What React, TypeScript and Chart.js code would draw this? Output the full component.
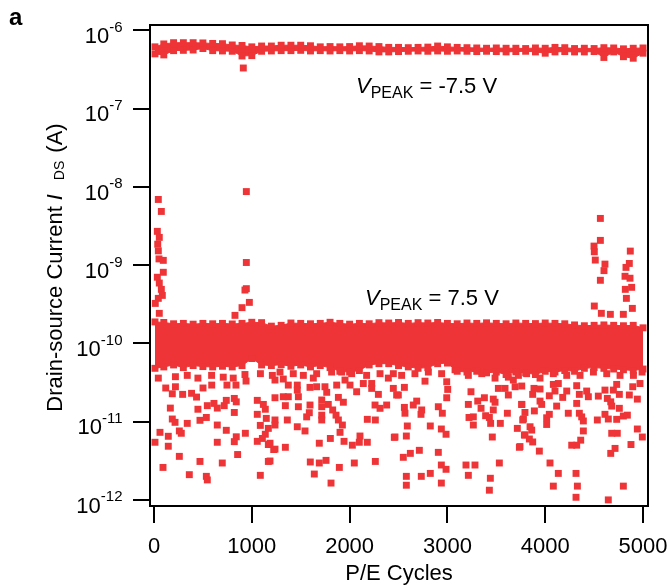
import React, { useEffect, useRef } from 'react';
import { Chart, registerables } from 'chart.js';

Chart.register(...registerables);

const RED = 'rgb(238, 52, 54)';
const FONT = '"Liberation Sans", Arial, Helvetica, sans-serif';

const xTickValues = [0, 1000, 2000, 3000, 4000, 5000];
const yTickExponents = [-12, -11, -10, -9, -8, -7, -6];

// cycles at which the edges of the two dense bands were read
const envelopeCycles = [
  10, 100, 200, 300, 400, 500, 600, 700, 800, 900, 1000, 1100, 1200, 1300, 1400, 1500, 1600,
  1700, 1800, 1900, 2000, 2100, 2200, 2300, 2400, 2500, 2600, 2700, 2800, 2900, 3000, 3100,
  3200, 3300, 3400, 3500, 3600, 3700, 3800, 3900, 4000, 4100, 4200, 4300, 4400, 4500, 4600,
  4700, 4800, 4900, 5000,
];

// V_PEAK = -7.5 V band (upper / lower edge of the dense points)
const highUpper = [
  6.15e-7, 6.7e-7, 6.95e-7, 6.95e-7, 6.95e-7, 6.9e-7, 6.8e-7, 6.75e-7, 6.5e-7, 6.4e-7,
  6.15e-7, 6.3e-7, 6.3e-7, 6.45e-7, 6.45e-7, 6.45e-7, 6.35e-7, 6.15e-7, 6.2e-7, 6.15e-7,
  6.2e-7, 6.35e-7, 6.3e-7, 6.2e-7, 6.05e-7, 6.05e-7, 6.0e-7, 6.05e-7, 6.1e-7, 6.3e-7,
  6.15e-7, 6.05e-7, 6.0e-7, 5.95e-7, 5.9e-7, 5.95e-7, 5.9e-7, 5.9e-7, 5.85e-7, 5.95e-7,
  5.9e-7, 6.05e-7, 6.0e-7, 5.85e-7, 5.9e-7, 5.85e-7, 6.0e-7, 5.95e-7, 5.8e-7, 5.9e-7, 5.95e-7,
];
const highLower = [
  5.0e-7, 4.85e-7, 5.5e-7, 5.55e-7, 5.6e-7, 5.85e-7, 5.5e-7, 5.45e-7, 5.4e-7, 4.7e-7,
  4.75e-7, 5.4e-7, 5.45e-7, 5.5e-7, 5.5e-7, 5.55e-7, 5.45e-7, 5.5e-7, 5.45e-7, 5.5e-7,
  5.45e-7, 5.5e-7, 5.45e-7, 5.3e-7, 5.3e-7, 5.35e-7, 5.4e-7, 5.45e-7, 5.4e-7, 5.45e-7,
  5.4e-7, 5.45e-7, 5.4e-7, 5.35e-7, 5.4e-7, 5.35e-7, 5.3e-7, 5.35e-7, 5.4e-7, 5.3e-7,
  5.1e-7, 5.3e-7, 5.35e-7, 5.3e-7, 5.3e-7, 5.35e-7, 4.5e-7, 5.3e-7, 4.6e-7, 4.4e-7, 5.1e-7,
];
const highOutlierCycles = [913];
const highOutlierValues = [3.3e-7];

// V_PEAK = 7.5 V band (upper / lower edge of the dense points)
const lowUpper = [
  1.88e-10, 1.85e-10, 1.78e-10, 1.8e-10, 1.76e-10, 1.8e-10, 1.78e-10, 1.8e-10, 1.77e-10, 1.8e-10,
  1.86e-10, 1.84e-10, 1.66e-10, 1.7e-10, 1.82e-10, 1.8e-10, 1.78e-10, 1.8e-10, 1.86e-10, 1.8e-10,
  1.76e-10, 1.8e-10, 1.78e-10, 1.84e-10, 1.82e-10, 1.85e-10, 1.8e-10, 1.84e-10, 1.82e-10, 1.85e-10,
  1.8e-10, 1.78e-10, 1.82e-10, 1.8e-10, 1.83e-10, 1.8e-10, 1.78e-10, 1.82e-10, 1.8e-10, 1.79e-10,
  1.82e-10, 1.8e-10, 1.78e-10, 1.72e-10, 1.68e-10, 1.7e-10, 1.72e-10, 1.7e-10, 1.68e-10, 1.7e-10, 1.58e-10,
];
const lowLower = [
  4.8e-11, 5.0e-11, 5.3e-11, 4.9e-11, 5.2e-11, 5.05e-11, 5.0e-11, 5.1e-11, 5.0e-11, 5.2e-11,
  6.4e-11, 5.3e-11, 5.2e-11, 5.35e-11, 5.1e-11, 5.3e-11, 5.0e-11, 5.2e-11, 4.9e-11, 4.4e-11,
  4.3e-11, 4.5e-11, 5.3e-11, 5.5e-11, 5.5e-11, 5.2e-11, 5.0e-11, 4.8e-11, 4.9e-11, 5.5e-11,
  5.6e-11, 4.4e-11, 4.3e-11, 4.4e-11, 4.2e-11, 4.3e-11, 4.0e-11, 4.3e-11, 4.2e-11, 4.0e-11,
  4.4e-11, 4.3e-11, 4.5e-11, 4.4e-11, 4.8e-11, 4.9e-11, 4.8e-11, 4.7e-11, 4.6e-11, 4.5e-11, 4.7e-11,
];

// ragged points just under the dense 7.5 V band
const bandEdgeCycles = [
  219, 340, 449, 589, 708, 810, 930, 1088, 1210,
  1288, 1424, 1527, 1663, 1816, 1919, 2021, 2174, 2311, 2447,
  2532, 2668, 2805, 2941, 3078, 3214, 3351, 3487, 3623, 3726,
  3810, 3947, 4083, 4220, 4356, 4493, 4629, 4765, 4902, 4990,
];
const bandEdgeValues = [
  3.75e-11, 3.9e-11, 3.6e-11, 3.9e-11, 3.7e-11, 3.6e-11, 4.0e-11, 4.1e-11, 3.9e-11,
  4.3e-11, 4.1e-11, 3.9e-11, 4.1e-11, 4.3e-11, 4.3e-11, 4.1e-11, 3.9e-11, 4.1e-11, 4.1e-11,
  3.9e-11, 4.1e-11, 4.3e-11, 4.1e-11, 4.6e-11, 3.9e-11, 4.1e-11, 3.6e-11, 3.7e-11, 3.9e-11,
  4.1e-11, 3.6e-11, 4.1e-11, 3.9e-11, 3.9e-11, 4.3e-11, 4.1e-11, 3.9e-11, 3.9e-11, 4.3e-11,
];

// isolated high-current points of the 7.5 V series
const spikeCycles = [
  44, 75, 34, 54, 38, 44, 51, 95, 95, 34, 54, 75, 85, 44, 13, 54,
  944, 944, 944, 930, 975, 900, 828,
  4564, 4564, 4499, 4502, 4512, 4611, 4601, 4564, 4870, 4860, 4826, 4816, 4867, 4884, 4819, 4830,
  4891, 4502, 4574, 4666, 4799,
];
const spikeValues = [
  6.9e-9, 4.85e-9, 2.7e-9, 2.26e-9, 1.85e-9, 1.52e-9, 1.2e-9, 1.15e-9, 8.1e-10, 7.0e-10, 5.9e-10,
  4.9e-10, 4.1e-10, 3.76e-10, 3.24e-10, 2.42e-10,
  8.7e-9, 1.08e-9, 5.0e-10, 4.8e-10, 3.34e-10, 2.86e-10, 2.28e-10,
  3.95e-9, 2.07e-9, 1.75e-9, 1.48e-9, 1.16e-9, 1.03e-9, 8.5e-10, 6.4e-10, 1.51e-9, 1.05e-9,
  9.35e-10, 7.2e-10, 6.8e-10, 5.2e-10, 4.9e-10, 3.76e-10, 2.8e-10, 3.0e-10, 2.42e-10, 2.35e-10, 2.35e-10,
];

// isolated low-current points of the 7.5 V series
const lowScatterCycles = [
  44, 120, 187, 219, 293, 384, 435, 501, 590, 746, 838, 941, 167, 187, 215, 340, 61, 146, 259, 279,
  10, 146, 259, 92, 361, 470, 535, 545, 698, 647, 647, 739, 470, 535, 449, 545, 613, 647, 718, 739,
  821, 841, 821, 841, 821, 934, 855, 1056, 1056, 1118, 1138, 1148, 1087, 1169, 1138, 1108, 1056, 1169,
  1169, 1087, 1224,
  1237, 1322, 1373, 1465, 1465, 1629, 1663, 1595, 1748, 1766, 1868, 1953, 2004, 2072, 2140, 2226,
  2226, 2396, 2447, 2481, 1237, 1322, 1373, 1343, 1476, 1476, 1595, 1715, 1715, 1782, 1885, 1936,
  2294, 2260, 2311, 2379, 1237, 1237, 1363, 1465, 1544, 1561, 1588, 1715, 1715, 1827, 1861, 1885,
  1926, 1902, 2181, 2263, 1186, 1237, 1343, 1690, 1803, 1943, 2028, 2106, 2099, 2181, 2457, 1186,
  1598, 1690, 1759, 1895, 2048, 2263, 1639, 1810,
  2560, 2498, 2686, 2651, 2771, 2907, 2993, 3003, 2993, 2560, 2566, 2737, 2730, 2948, 3214, 3241,
  3310, 3344, 3378, 3469, 3487, 3521, 3589, 3623, 3692, 3674, 3760, 3777, 3391, 3429, 3469, 3221,
  3265, 3265, 3442, 3541, 3613, 2590, 2825, 2938, 2986, 2580, 2464, 3459, 3715, 3787, 2549, 2621,
  2713, 2907, 3736, 2938, 2986, 3190, 3282, 3531, 2580, 2733, 2825, 3214, 3439, 2580, 2938, 3429,
  3760, 3885, 3872, 3947, 4083, 4134, 4100, 4042, 4179, 4220, 4322, 4349, 4424, 4441, 4543, 4611,
  4635, 4670, 4697, 4731, 4758, 4860, 4895, 4969, 4942, 3760, 3793, 3770, 3889, 3947, 3964, 4015,
  4015, 4042, 4117, 4236, 4322, 4349, 4390, 4373, 4533, 4611, 4645, 4680, 4731, 4758, 4799, 4840,
  3845, 3862, 3793, 3838, 3872, 3742, 3940, 4390, 4363, 4322, 4271, 4680, 4737, 4714, 4670, 4877,
  4942, 4993, 4049, 4134, 4315, 4083, 4329, 4799, 4315, 4645,
];
const lowScatterValues = [
  3.6e-11, 2.69e-11, 2.27e-11, 2.79e-11, 2.23e-11, 2.3e-11, 2.06e-11, 2.69e-11, 2.93e-11, 2.93e-11,
  2.93e-11, 3.3e-11, 1.49e-11, 1.08e-11, 9.8e-12, 9.5e-12, 7.3e-12, 6.5e-12, 7.6e-12, 7.1e-12,
  5.45e-12, 4.85e-12, 3.6e-12, 2.6e-12, 2.1e-12, 3.1e-12, 2.0e-12, 1.8e-12, 2.96e-12, 5.45e-12,
  9.05e-12, 7.75e-12, 1.04e-11, 1.13e-11, 1.44e-11, 1.6e-11, 1.71e-11, 1.49e-11, 1.6e-11, 1.87e-11,
  1.98e-11, 1.79e-11, 1.31e-11, 6.4e-12, 5.55e-12, 7.1e-12, 3.8e-12, 1.87e-11, 1.24e-11, 1.66e-11,
  1.44e-11, 1.1e-11, 8.95e-12, 8.2e-12, 6.9e-12, 6.1e-12, 5.6e-12, 5.1e-12, 3.1e-12, 2.06e-12,
  4.4e-12,
  3.4e-11, 3.5e-11, 2.93e-11, 2.93e-11, 2.53e-11, 3.6e-11, 2.79e-11, 2.74e-11, 2.79e-11, 2.37e-11,
  2.93e-11, 3.4e-11, 2.93e-11, 2.41e-11, 3.07e-11, 3.07e-11, 2.66e-11, 3.6e-11, 2.66e-11, 2.19e-11,
  2.02e-11, 2.08e-11, 2.08e-11, 1.6e-11, 2.08e-11, 1.55e-11, 1.63e-11, 1.89e-11, 1.55e-11, 1.66e-11,
  2.04e-11, 1.77e-11, 2.23e-11, 1.63e-11, 1.48e-11, 1.63e-11, 1.05e-11, 9.05e-12, 1.05e-11, 8.6e-12,
  7.6e-12, 1.15e-11, 1.3e-11, 1.21e-11, 1.05e-11, 1.41e-11, 1.21e-11, 1.05e-11, 9.05e-12, 7.3e-12,
  1.07e-11, 1.05e-11, 5.3e-12, 4.45e-12, 4.7e-12, 5.3e-12, 6.1e-12, 5.6e-12, 5.0e-12, 6.55e-12,
  5.45e-12, 5.45e-12, 6.3e-12, 3.14e-12, 3.05e-12, 2.96e-12, 3.2e-12, 2.6e-12, 2.96e-12, 3.1e-12,
  2.14e-12, 1.64e-12,
  2.74e-11, 2.19e-11, 1.83e-11, 1.63e-11, 3.29e-11, 1.55e-11, 3.23e-11, 2.58e-11, 2.02e-11, 1.52e-11,
  1.28e-11, 1.41e-11, 1.24e-11, 1.28e-11, 1.66e-11, 2.41e-11, 1.83e-11, 1.48e-11, 2.02e-11, 1.94e-11,
  1.77e-11, 2.66e-11, 2.66e-11, 2.19e-11, 2.79e-11, 3.4e-11, 1.66e-11, 1.08e-11, 1.19e-11, 1.13e-11,
  1.41e-11, 1.13e-11, 1.15e-11, 9.05e-12, 9.5e-12, 9.5e-12, 1.28e-11, 8.8e-12, 8.8e-12, 8.05e-12,
  6.9e-12, 6.55e-12, 6.36e-12, 6.36e-12, 8.2e-12, 6.75e-12, 3.5e-12, 3.93e-12, 4.3e-12, 4.05e-12,
  4.7e-12, 2.79e-12, 2.46e-12, 2.79e-12, 2.79e-12, 2.96e-12, 2.0e-12, 2.0e-12, 2.18e-12, 2.06e-12,
  1.89e-12, 1.54e-12, 1.64e-12, 1.33e-12,
  2.85e-11, 2.66e-11, 2.23e-11, 2.61e-11, 2.99e-11, 3.07e-11, 2.46e-11, 2.14e-11, 2.04e-11, 2.46e-11,
  2.88e-11, 2.23e-11, 2.46e-11, 2.08e-11, 2.12e-11, 2.53e-11, 1.98e-11, 1.79e-11, 2.53e-11, 2.99e-11,
  2.23e-11, 2.19e-11, 2.79e-11, 3.07e-11, 1.94e-11, 1.66e-11, 1.31e-11, 1.05e-11, 1.37e-11, 1.83e-11,
  1.66e-11, 1.12e-11, 9.2e-12, 1.24e-11, 1.58e-11, 1.28e-11, 1.71e-11, 1.28e-11, 1.02e-11, 1.15e-11,
  1.05e-11, 1.24e-11, 1.08e-11, 1.58e-11, 1.07e-11, 1.48e-11, 1.18e-11, 1.21e-11, 8.6e-12, 7.8e-12,
  6.75e-12, 6.0e-12, 5.5e-12, 4.8e-12, 4.2e-12, 7.6e-12, 5.8e-12, 5.0e-12, 5.0e-12, 7.1e-12,
  7.1e-12, 4.55e-12, 3.93e-12, 5.1e-12, 8.05e-12, 6.36e-12, 2.96e-12, 2.18e-12, 2.18e-12, 1.5e-12,
  1.5e-12, 1.5e-12, 1.08e-12, 1.0e-12,
];

const toPoints = (xs: number[], ys: number[]) => xs.map((x, i) => ({ x, y: ys[i] }));

const pointStyleOpts = {
  pointStyle: 'rect',
  pointRadius: 4.9,
  pointHoverRadius: 4.9,
  pointBackgroundColor: RED,
  pointBorderColor: RED,
  pointBorderWidth: 0,
};

type Part = { t: string; font: string; dy?: number; dx?: number };

function drawParts(ctx: CanvasRenderingContext2D, x: number, y: number, parts: Part[]) {
  let cx = x;
  ctx.textAlign = 'left';
  ctx.textBaseline = 'alphabetic';
  for (const p of parts) {
    cx += p.dx || 0;
    ctx.font = p.font;
    ctx.fillText(p.t, cx, y + (p.dy || 0));
    cx += ctx.measureText(p.t).width;
  }
}

function partsWidth(ctx: CanvasRenderingContext2D, parts: Part[]) {
  let w = 0;
  for (const p of parts) {
    ctx.font = p.font;
    w += (p.dx || 0) + ctx.measureText(p.t).width;
  }
  return w;
}

const decorations = {
  id: 'decorations',
  afterDraw(chart: any) {
    const ctx: CanvasRenderingContext2D = chart.ctx;
    const { left, top, right, bottom } = chart.chartArea;
    const xs = chart.scales.x;
    const ys = chart.scales.y;
    ctx.save();
    ctx.strokeStyle = '#000';
    ctx.lineWidth = 2;
    ctx.strokeRect(left, top, right - left, bottom - top);

    ctx.fillStyle = '#000';
    // y tick labels 10^n
    for (const e of yTickExponents) {
      const y = ys.getPixelForValue(Math.pow(10, e));
      const sup = String(e);
      ctx.textAlign = 'right';
      ctx.textBaseline = 'alphabetic';
      ctx.font = `15px ${FONT}`;
      ctx.fillText(sup, 122.5, y + 1.5);
      const w = ctx.measureText(sup).width;
      ctx.font = `22px ${FONT}`;
      ctx.fillText('10', 122.5 - w, y + 12.7);
    }
    // x tick labels
    ctx.font = `22px ${FONT}`;
    ctx.textAlign = 'center';
    for (const v of xTickValues) {
      ctx.fillText(String(v), xs.getPixelForValue(v), 553);
    }
    // x title
    ctx.fillText('P/E Cycles', (left + right) / 2, 580);

    // y title
    const titleParts: Part[] = [
      { t: 'Drain-source Current', font: `22px ${FONT}` },
      { t: 'I', font: `italic 22px ${FONT}`, dx: 6 },
      { t: 'DS', font: `14px ${FONT}`, dx: 14, dy: 2 },
      { t: '(A)', font: `22px ${FONT}`, dx: 8 },
    ];
    const tw = partsWidth(ctx, titleParts);
    ctx.save();
    ctx.translate(62, (top + bottom) / 2 + 2);
    ctx.rotate(-Math.PI / 2);
    drawParts(ctx, -tw / 2, 0, titleParts);
    ctx.restore();

    // annotations
    drawParts(ctx, 356, 93, [
      { t: 'V', font: `italic 22px ${FONT}` },
      { t: 'PEAK', font: `16px ${FONT}`, dy: 5 },
      { t: ' = -7.5 V', font: `22px ${FONT}` },
    ]);
    drawParts(ctx, 365, 305, [
      { t: 'V', font: `italic 22px ${FONT}` },
      { t: 'PEAK', font: `16px ${FONT}`, dy: 5 },
      { t: ' = 7.5 V', font: `22px ${FONT}` },
    ]);

    // panel letter
    ctx.font = `bold 24px ${FONT}`;
    ctx.textAlign = 'left';
    ctx.fillText('a', 9, 25);
    ctx.restore();
  },
};

export default function App() {
  const canvasRef = useRef<HTMLCanvasElement | null>(null);

  useEffect(() => {
    const canvas = canvasRef.current;
    if (!canvas) return;
    const tickGrid = {
      display: true,
      drawOnChartArea: false,
      drawTicks: true,
      tickLength: 17,
      tickWidth: 2,
      tickColor: '#000',
      color: '#000',
      lineWidth: 2,
    };
    const band = (label: string, ys: number[], fill: any) => ({
      label,
      data: toPoints(envelopeCycles, ys),
      showLine: true,
      borderColor: RED,
      borderWidth: 1,
      backgroundColor: RED,
      fill,
      tension: 0,
      ...pointStyleOpts,
    });
    const dots = (label: string, xs: number[], ys: number[]) => ({
      label,
      data: toPoints(xs, ys),
      showLine: false,
      ...pointStyleOpts,
    });
    const chart = new Chart(canvas, {
      type: 'line',
      data: {
        datasets: [
          band('high upper', highUpper, false),
          band('high lower', highLower, '-1'),
          dots('high outlier', highOutlierCycles, highOutlierValues),
          band('low upper', lowUpper, false),
          band('low lower', lowLower, '-1'),
          dots('band edge', bandEdgeCycles, bandEdgeValues),
          dots('spikes', spikeCycles, spikeValues),
          dots('low scatter', lowScatterCycles, lowScatterValues),
        ],
      } as any,
      options: {
        animation: false,
        responsive: false,
        devicePixelRatio: 1,
        events: [],
        layout: { padding: { left: 0, right: 23, top: 25, bottom: 0 } },
        plugins: { legend: { display: false }, tooltip: { enabled: false } },
        scales: {
          x: {
            type: 'linear',
            min: -41,
            max: 5051,
            afterBuildTicks: (s: any) => {
              s.ticks = xTickValues.map((v) => ({ value: v }));
            },
            afterFit: (s: any) => {
              s.height = 81;
            },
            grid: tickGrid,
            border: { display: false },
            ticks: { display: false },
          },
          y: {
            type: 'logarithmic',
            min: Math.pow(10, -12.078),
            max: Math.pow(10, -5.932),
            afterBuildTicks: (s: any) => {
              s.ticks = yTickExponents.map((e) => ({ value: Math.pow(10, e) }));
            },
            afterFit: (s: any) => {
              s.width = 150;
            },
            grid: tickGrid,
            border: { display: false },
            ticks: { display: false },
          },
        },
      } as any,
      plugins: [decorations],
    });
    return () => chart.destroy();
  }, []);

  return (
    <div style={{ position: 'absolute', left: 0, top: 0, width: 671, height: 587, background: '#fff' }}>
      <canvas ref={canvasRef} width={671} height={587} style={{ display: 'block' }} />
    </div>
  );
}
